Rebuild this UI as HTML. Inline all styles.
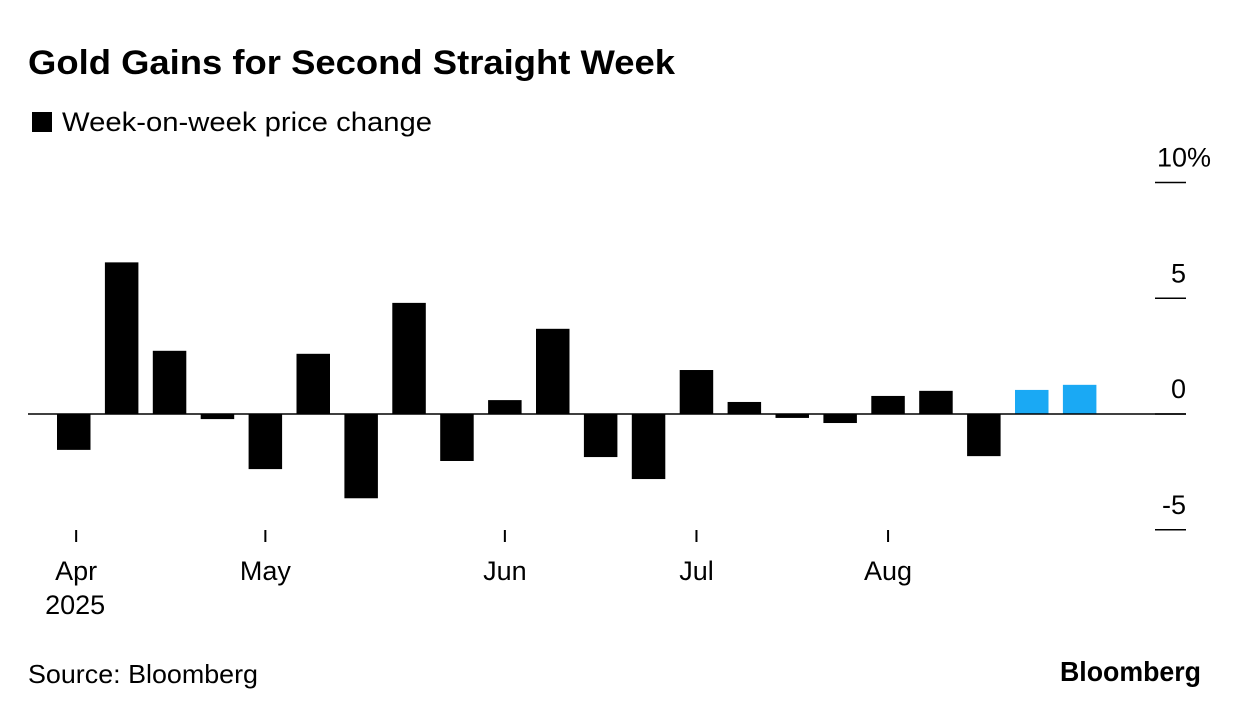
<!DOCTYPE html>
<html><head><meta charset="utf-8"><style>
body{margin:0;background:#fff;font-family:"Liberation Sans",Arial,sans-serif}
svg text{font-family:"Liberation Sans",Arial,sans-serif}
</style></head><body>
<svg width="1240" height="716" viewBox="0 0 1240 716">
<text x="28" y="74" font-size="34" font-weight="bold" fill="#000" textLength="647" lengthAdjust="spacingAndGlyphs">Gold Gains for Second Straight Week</text>
<rect x="32" y="112" width="20" height="20" fill="#000"/>
<text x="62" y="131" font-size="27" fill="#000" textLength="370" lengthAdjust="spacingAndGlyphs">Week-on-week price change</text>
<g id="bars"></g><g id="yaxis"></g><g id="xaxis"></g>
<text x="28" y="683" font-size="26" fill="#000" textLength="230" lengthAdjust="spacingAndGlyphs">Source: Bloomberg</text>
<text x="1201" y="681" font-size="28" font-weight="bold" text-anchor="end" fill="#000" textLength="141" lengthAdjust="spacingAndGlyphs">Bloomberg</text>
</svg>
<script>
const values=[-1.55,6.55,2.73,-0.22,-2.38,2.6,-3.64,4.8,-2.03,0.6,3.68,-1.86,-2.81,1.9,0.52,-0.17,-0.39,0.78,1.0,-1.82,1.04,1.26];
const highlighted=[20,21];
const yTicks=[-5,0,5,10];
const yTickLabels=["-5","0","5","10%"];
const monthLabels=["Apr","May","Jun","Jul","Aug"];
const monthIndex=[0.4,4.35,9.35,13.35,17.35];
const ns="http://www.w3.org/2000/svg";
const y=v=>414-v*23.15;
const x=i=>57+i*47.9;
const bw=33.5;
function mk(t,a,p){const e=document.createElementNS(ns,t);for(const k in a)e.setAttribute(k,a[k]);p.appendChild(e);return e;}
const B=document.getElementById('bars'),Y=document.getElementById('yaxis'),X=document.getElementById('xaxis');
values.forEach((v,i)=>{
 const r=mk('rect',{x:x(i),y:Math.min(y(v),y(0)),width:bw,height:Math.abs(y(v)-y(0)),fill:highlighted.includes(i)?'#1aa9f4':'#000'},B);
 
 
});
const zl=mk('line',{x1:28,x2:1186,y1:y(0),y2:y(0),stroke:'#000','stroke-width':1.5},Y);


yTicks.forEach((t,i)=>{
 const l=mk('line',{x1:1155,x2:1186,y1:y(t),y2:y(t),stroke:'#000','stroke-width':1.5},Y);
 
 
 const tx=mk('text',{x:1211-(i==3?0:25),y:y(t)-16,'font-size':27,'text-anchor':'end',fill:'#000'},Y);
 tx.textContent=yTickLabels[i];
 
 
});
monthLabels.forEach((m,i)=>{
 const cx=x(monthIndex[i]);
 const l=mk('line',{x1:cx,x2:cx,y1:530,y2:542,stroke:'#000','stroke-width':2},X);
 
 
 const tx=mk('text',{x:cx,y:580,'font-size':27,'text-anchor':'middle',fill:'#000'},X);
 tx.textContent=m;
 
 
});
const yr=mk('text',{x:x(monthIndex[0])-1,y:614,'font-size':27,'text-anchor':'middle',fill:'#000'},X);
yr.textContent='2025';


</script>
</body></html>
